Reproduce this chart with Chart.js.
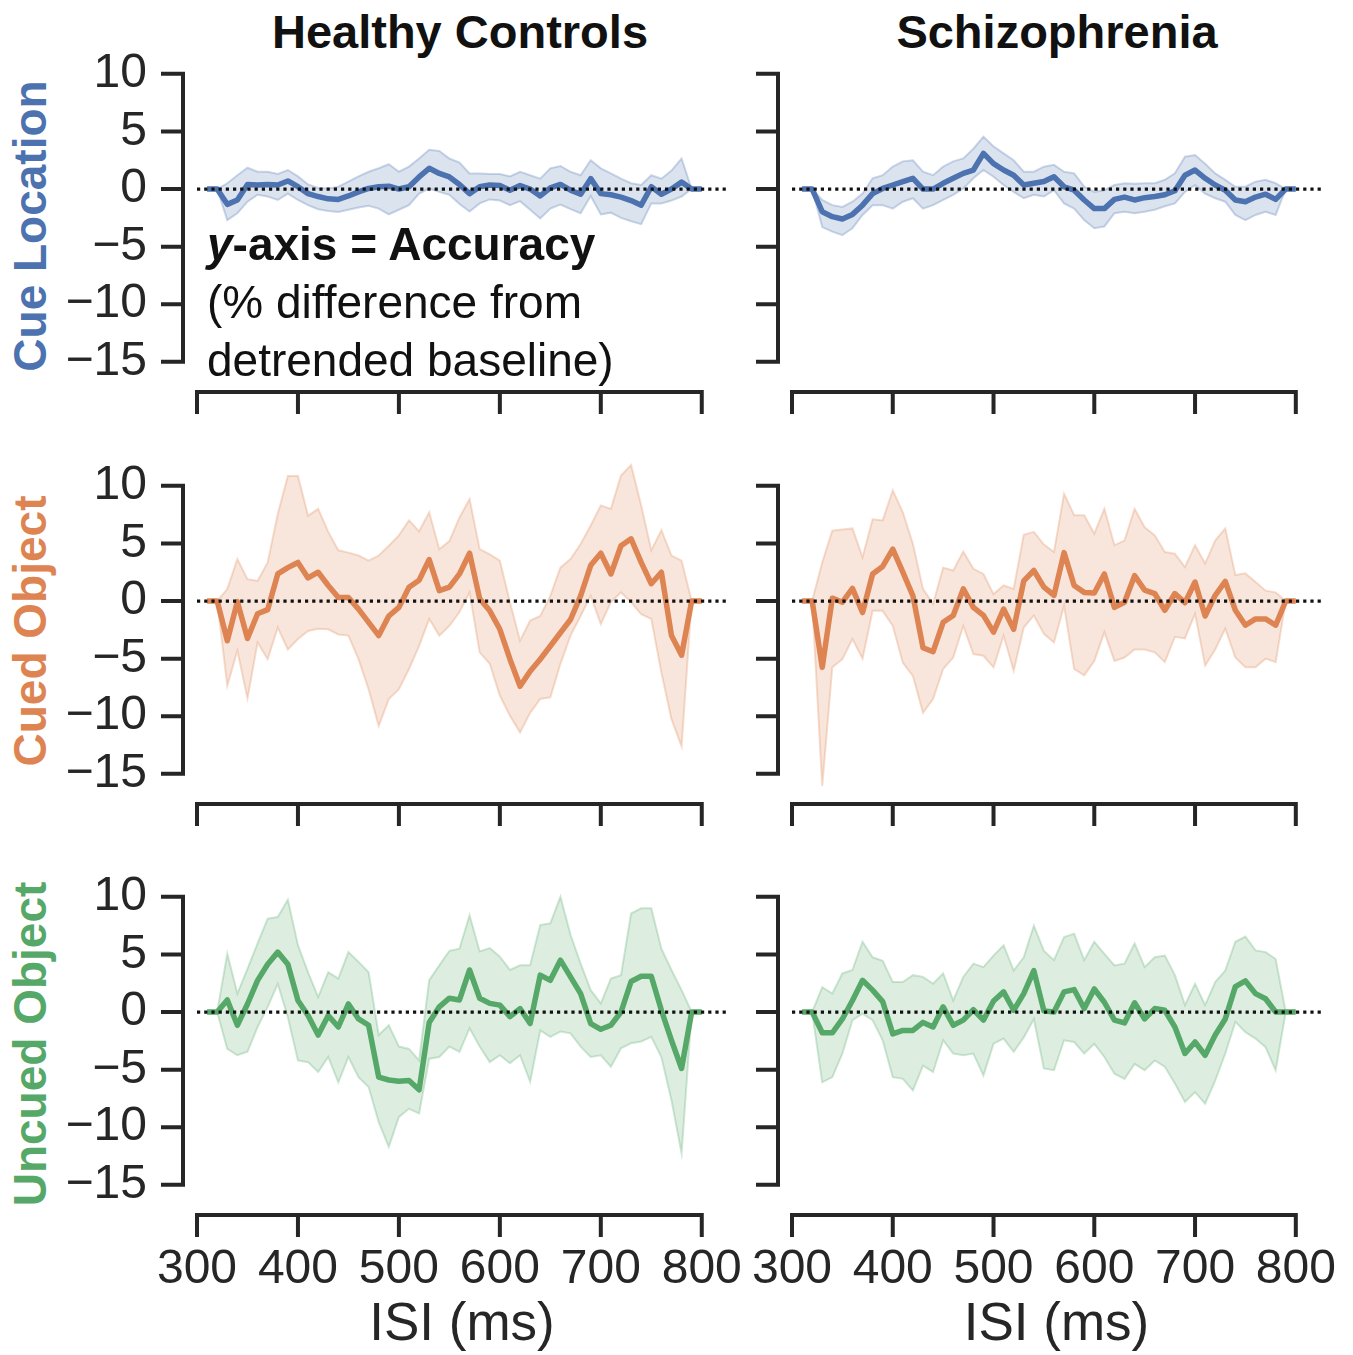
<!DOCTYPE html>
<html lang="en">
<head>
<meta charset="UTF-8">
<title>Accuracy by ISI</title>
<script src="https://cdn.jsdelivr.net/npm/chart.js"></script>
<style>
  body { margin: 0; background: #fff; width: 1353px; height: 1355px; position: relative; overflow: hidden;
         font-family: 'Liberation Sans', Arial, sans-serif; }
  canvas { position: absolute; }
  .coltitle { position: absolute; top: 4px; font-weight: bold; font-size: 47px; color: #111;
              transform: translateX(-50%); white-space: nowrap; }
  .rowlabel { position: absolute; left: 30px; font-weight: bold; font-size: 46px; white-space: nowrap;
              transform: translate(-50%, -50%) rotate(-90deg); }
  .note { position: absolute; left: 207px; top: 215px; font-size: 46px; line-height: 58px; color: #111; white-space: nowrap; }
</style>
</head>
<body>
<div class="coltitle" style="left:460px">Healthy Controls</div>
<div class="coltitle" style="left:1057px">Schizophrenia</div>
<div class="rowlabel" style="top:226px;color:#4c72b0">Cue Location</div>
<div class="rowlabel" style="top:631px;color:#dd8452">Cued Object</div>
<div class="rowlabel" style="top:1044px;color:#55a868">Uncued Object</div>

<script>
// ISI values (ms)
const isi = [310, 320, 330, 340, 350, 360, 370, 380, 390, 400,
             410, 420, 430, 440, 450, 460, 470, 480, 490, 500,
             510, 520, 530, 540, 550, 560, 570, 580, 590, 600,
             610, 620, 630, 640, 650, 660, 670, 680, 690, 700,
             710, 720, 730, 740, 750, 760, 770, 780, 790, 800];
const xTicks = [300, 400, 500, 600, 700, 800];
const yTicks = [-15, -10, -5, 0, 5, 10];
const xRange = [300, 825];
const yRange = [-16.4, 12.5];

// Healthy controls - cue location
const hcCueMean = [0, 0, -1.33, -0.95, 0.4, 0.35, 0.4, 0.35, 0.7, 0.2,
  -0.4, -0.65, -0.85, -0.9, -0.6, -0.25, 0.05, 0.2, 0.25, 0,
  0.2, 1.05, 1.8, 1.35, 1.05, 0.4, -0.4, 0.2, 0.35, 0.3,
  -0.1, 0.3, 0, -0.6, 0.1, 0.4, -0.1, -0.45, 0.9, -0.4,
  -0.5, -0.7, -1.0, -1.4, 0.2, -0.45, 0, 0.6, 0, 0];
const hcCueHi = [0, 0, 0.5, 1.2, 1.85, 1.5, 1.5, 1.3, 1.65, 1.1,
  0.4, 0.1, 0.05, 0.2, 0.65, 1.1, 1.5, 1.8, 2.15, 1.5,
  1.95, 2.65, 3.4, 3.3, 2.65, 2.3, 1.35, 1.35, 1.3, 1.3,
  1.1, 1.5, 1.2, 0.9, 1.8, 2.0, 1.5, 1.2, 2.5, 1.8,
  1.35, 0.9, 0.5, 0.35, 1.2, 0.9, 1.6, 2.65, 0, 0];
const hcCueLo = [0, 0, -2.7, -2.1, -1.1, -0.5, -0.65, -0.95, -0.4, -0.95,
  -1.4, -1.75, -1.9, -2.0, -1.8, -1.6, -1.45, -1.7, -2.2, -1.8,
  -1.4, -0.4, 0.05, -0.25, -0.5, -1.3, -1.95, -1.25, -0.9, -1.0,
  -1.4, -1.05, -1.8, -2.55, -1.7, -1.35, -1.75, -2.1, -0.6, -2.2,
  -2.05, -2.5, -2.8, -3.05, -1.25, -1.25, -1.0, -0.65, 0, 0];

// Schizophrenia - cue location
const szCueMean = [0, 0, -1.97, -2.4, -2.6, -2.2, -1.4, -0.4, 0.05, 0.35,
  0.64, 0.93, 0, 0, 0.5, 0.93, 1.36, 1.65, 3.1, 2.2,
  1.65, 1.2, 0.35, 0.5, 0.65, 1.07, 0.2, -0.1, -0.95, -1.7,
  -1.7, -0.9, -0.7, -0.95, -0.75, -0.65, -0.5, -0.15, 1.2, 1.65,
  0.93, 0.35, -0.1, -0.95, -1.1, -0.7, -0.45, -0.9, 0, 0];
const szCueHi = [0, 0, -0.95, -1.4, -1.55, -1.1, -0.4, 0.93, 1.2, 1.94,
  2.4, 2.5, 1.5, 1.2, 1.94, 2.4, 2.66, 3.5, 4.55, 3.7,
  3.1, 2.5, 1.5, 1.5, 1.94, 2.1, 1.5, 1.36, 0.2, -0.25,
  -0.1, 0.35, 0.5, 0.45, 0.5, 0.5, 0.8, 1.36, 2.8, 2.95,
  2.2, 1.36, 0.8, 0.2, 0.2, 0.64, 0.8, 0.5, 0, 0];
const szCueLo = [0, 0, -3.3, -3.7, -4.0, -3.4, -2.25, -1.4, -1.4, -1.7,
  -1.1, -0.8, -1.7, -1.4, -0.95, -0.5, 0.05, 0.93, 1.65, 1.07,
  0.35, -0.25, -0.8, -0.5, -0.65, -0.1, -1.25, -1.7, -2.7, -3.4,
  -3.25, -2.1, -1.97, -2.1, -1.97, -1.8, -1.5, -1.25, -0.25, 0.35,
  -0.4, -0.8, -1.1, -2.25, -2.7, -2.25, -1.97, -2.25, 0, 0];

// Healthy controls - cued object
const hcCuedMean = [0, 0, -3.45, -0.05, -3.25, -1.1, -0.75, 2.35, 2.9, 3.35,
  2.0, 2.5, 1.35, 0.3, 0.3, -0.7, -1.85, -3.0, -1.3, -0.55,
  1.2, 1.8, 3.6, 0.9, 1.2, 2.35, 4.15, 0.2, -0.85, -2.45,
  -5.05, -7.4, -6.1, -5.05, -3.9, -2.75, -1.6, 0.45, 3.1, 4.15,
  2.35, 4.8, 5.4, 3.35, 1.5, 2.5, -3.0, -4.7, 0, 0];
const hcCuedHi = [0, 0, 1.05, 3.65, 1.9, 1.75, 3.35, 7.55, 10.85, 10.85,
  7.4, 8.0, 6.0, 4.4, 4.2, 3.95, 3.5, 3.95, 4.8, 5.7,
  7.0, 6.05, 7.7, 4.5, 5.2, 7.25, 8.85, 4.5, 4.05, 3.5,
  -0.1, -3.45, -1.7, -1.3, 0.45, 2.9, 3.65, 4.95, 6.55, 8.3,
  8.0, 10.9, 11.8, 8.3, 4.4, 6.15, 3.95, 3.5, 0, 0];
const hcCuedLo = [0, 0, -7.35, -4.3, -8.45, -3.6, -5.05, -2.3, -4.2, -3.3,
  -2.6, -2.4, -2.45, -2.9, -3.0, -5.05, -7.65, -10.85, -8.5, -7.65,
  -5.9, -3.9, -1.55, -3.0, -2.15, -0.95, 0.75, -4.45, -5.45, -8.2,
  -9.95, -11.4, -9.7, -8.5, -8.35, -5.45, -3.0, -1.3, 0.45, -2.0,
  -0.1, 0.75, -0.1, -1.15, -1.55, -6.2, -10.25, -12.6, 0, 0];

// Schizophrenia - cued object
const szCuedMean = [0, 0, -5.75, 0.25, -0.1, 1.1, -1.0, 2.35, 3.0, 4.5,
  2.5, 0.45, -4.05, -4.4, -1.85, -1.25, 1.05, -0.55, -1.25, -2.7,
  -0.7, -2.45, 1.75, 2.65, 1.2, 0.5, 4.2, 1.35, 0.75, 0.7,
  2.35, -0.55, -0.1, 2.2, 0.95, 0.65, -0.8, 0.65, -0.15, 1.65,
  -1.3, 0.5, 1.7, -0.8, -2.1, -1.55, -1.55, -2.1, 0, 0];
const szCuedHi = [0, 0, 3.35, 6.1, 6.2, 6.3, 3.8, 7.1, 7.0, 9.6,
  7.7, 4.95, 1.05, -0.25, 2.9, 2.65, 4.3, 2.8, 2.35, 0.6,
  1.35, 1.05, 5.75, 6.0, 4.9, 4.25, 9.3, 7.45, 7.45, 5.85,
  8.0, 4.85, 5.25, 8.0, 6.4, 5.7, 4.25, 4.1, 2.95, 4.85,
  3.25, 5.25, 6.3, 2.25, 2.4, 1.65, 0.9, 0.75, 0, 0];
const szCuedLo = [0, 0, -16.05, -5.75, -5.05, -3.3, -5.0, -0.85, -0.85, -2.15,
  -5.35, -6.5, -9.7, -8.5, -5.9, -4.9, -2.15, -4.6, -4.75, -5.75,
  -3.0, -6.05, -2.3, -1.25, -2.85, -3.6, -0.4, -5.9, -6.45, -5.2,
  -2.7, -5.2, -4.9, -4.2, -4.2, -4.45, -5.3, -3.1, -3.25, -1.1,
  -5.6, -4.2, -2.4, -4.9, -5.75, -5.75, -5.0, -5.3, 0, 0];

// Healthy controls - uncued object
const hcUncMean = [0, 0, 1.05, -1.15, 0.7, 2.75, 4.15, 5.2, 4.15, 1.0,
  -0.3, -2.0, -0.3, -1.3, 0.7, -0.6, -1.15, -5.65, -5.9, -6.0,
  -5.95, -6.75, -0.9, 0.45, 1.2, 1.05, 3.65, 1.2, 0.75, 0.6,
  -0.4, 0.3, -1.0, 3.2, 2.75, 4.5, 3.05, 1.6, -1.0, -1.5,
  -1.15, 0, 2.65, 3.1, 3.1, 0.15, -2.45, -4.9, 0, 0];
const hcUncHi = [0, 0, 5.05, 1.6, 3.75, 5.95, 8.1, 8.25, 9.75, 5.8,
  3.45, 1.3, 3.45, 2.9, 5.2, 4.35, 3.45, -2.0, -1.15, -3.0,
  -3.2, -4.2, 2.75, 4.05, 5.3, 5.5, 8.4, 5.25, 5.55, 4.8,
  3.65, 4.05, 4.05, 7.55, 7.7, 10.0, 6.7, 4.2, 1.9, 0.75,
  2.9, 3.2, 8.55, 9.0, 9.0, 5.5, 3.65, 1.9, 0, 0];
const hcUncLo = [0, 0, -3.2, -3.75, -3.45, -1.3, 0.45, 2.45, -0.45, -4.2,
  -4.35, -5.2, -3.9, -6.1, -3.9, -5.65, -6.5, -9.55, -11.7, -9.1,
  -8.4, -8.8, -4.05, -3.9, -3.0, -3.45, -1.4, -3.0, -4.35, -3.75,
  -4.45, -3.75, -6.05, -1.6, -2.15, -1.7, -1.85, -3.0, -3.9, -3.75,
  -4.75, -3.15, -2.7, -2.55, -2.15, -3.9, -7.65, -12.25, 0, 0];

// Schizophrenia - uncued object
const szUncMean = [0, 0, -1.8, -1.8, -0.6, 1.0, 2.75, 1.9, 0.9, -1.9,
  -1.6, -1.6, -0.9, -1.3, 0.45, -1.15, -0.7, 0.2, -0.7, 0.95,
  1.75, 0.15, 1.6, 3.6, 0.1, 0, 1.75, 1.95, 0.3, 2.0,
  0.85, -0.7, -0.95, 0.8, -0.6, 0.3, 0.15, -1.3, -3.6, -2.6,
  -3.75, -2.0, -0.6, 2.2, 2.7, 1.6, 1.15, 0, 0, 0];
const szUncHi = [0, 0, 2.15, 1.6, 3.35, 3.65, 6.1, 4.75, 4.45, 2.6,
  2.6, 3.2, 3.05, 2.45, 3.35, 1.0, 3.05, 4.2, 3.9, 4.9,
  5.8, 3.6, 4.75, 7.5, 5.3, 4.5, 6.5, 6.8, 4.5, 6.1,
  5.05, 4.05, 4.2, 5.95, 3.9, 4.75, 4.9, 3.2, 0.6, 2.45,
  0.6, 2.6, 3.6, 6.1, 6.55, 5.35, 5.2, 4.6, 0, 0];
const szUncLo = [0, 0, -6.1, -5.65, -3.6, -0.7, -0.15, -0.7, -2.45, -5.65,
  -5.8, -6.8, -4.65, -5.2, -2.45, -3.6, -3.75, -3.6, -5.5, -2.75,
  -2.3, -3.45, -2.2, -0.6, -4.9, -5.05, -2.45, -2.6, -3.6, -2.75,
  -3.9, -5.35, -5.8, -4.5, -5.05, -4.2, -4.75, -6.2, -7.8, -6.95,
  -7.95, -5.95, -3.6, -0.85, -1.75, -2.3, -3.05, -5.05, 0, 0];

const blue = [76, 114, 176];
const orange = [221, 132, 82];
const green = [85, 168, 104];
const ink = '#262626';
const fontFamily = "'Liberation Sans', Arial, sans-serif";

// draws the offset, trimmed spines with outward ticks
const spinePlugin = {
  id: 'spines',
  afterDraw(chart) {
    const { ctx, chartArea, scales: { x, y } } = chart;
    const off = 14, len = 20;
    const sx = chartArea.left - off;
    const sy = chartArea.bottom + off;
    ctx.save();
    ctx.strokeStyle = ink;
    ctx.lineWidth = 4;
    ctx.lineCap = 'square';
    ctx.beginPath();
    ctx.moveTo(sx, y.getPixelForValue(yTicks[yTicks.length - 1]));
    ctx.lineTo(sx, y.getPixelForValue(yTicks[0]));
    yTicks.forEach(v => {
      const py = y.getPixelForValue(v);
      ctx.moveTo(sx - len, py); ctx.lineTo(sx, py);
    });
    ctx.moveTo(x.getPixelForValue(xTicks[0]), sy);
    ctx.lineTo(x.getPixelForValue(xTicks[xTicks.length - 1]), sy);
    xTicks.forEach(v => {
      const px = x.getPixelForValue(v);
      ctx.moveTo(px, sy); ctx.lineTo(px, sy + len);
    });
    ctx.stroke();
    ctx.restore();
  }
};

const rgba = (c, a) => `rgba(${c[0]},${c[1]},${c[2]},${a})`;
const pts = arr => isi.map((v, i) => ({ x: v, y: arr[i] }));

function makePanel(p) {
  const canvas = document.createElement('canvas');
  canvas.width = p.w;
  canvas.height = p.h;
  canvas.style.left = p.left + 'px';
  canvas.style.top = p.top + 'px';
  document.body.appendChild(canvas);

  new Chart(canvas.getContext('2d'), {
    type: 'line',
    data: {
      datasets: [
        { data: pts(p.lo), borderColor: rgba(p.color, 0.28), borderWidth: 2, fill: false, order: 3 },
        { data: pts(p.hi), borderColor: rgba(p.color, 0.28), borderWidth: 2,
          fill: '-1', backgroundColor: rgba(p.color, 0.2), order: 2 },
        { data: pts(p.mean), borderColor: rgba(p.color, 1), borderWidth: 5.5, fill: false, order: 1,
          borderJoinStyle: 'round' },
        { data: xRange.map(v => ({ x: v, y: 0 })), borderColor: '#111', borderWidth: 3.2,
          borderDash: [3.2, 4], fill: false, order: 0 }
      ]
    },
    options: {
      responsive: false,
      animation: false,
      devicePixelRatio: 1,
      layout: { padding: { top: 0, left: 0, right: p.padRight, bottom: 0 } },
      elements: { point: { radius: 0 }, line: { tension: 0 } },
      plugins: { legend: { display: false }, tooltip: { enabled: false } },
      scales: {
        x: {
          type: 'linear', min: xRange[0], max: xRange[1],
          grid: { display: false, drawTicks: false }, border: { display: false },
          afterBuildTicks: s => { s.ticks = xTicks.map(v => ({ value: v })); },
          afterFit: s => { s.height = p.xH; s.paddingLeft = 0; s.paddingRight = 0; },
          ticks: { display: p.xLabels, autoSkip: false, maxRotation: 0, padding: 40, color: ink,
                   font: { family: fontFamily, size: 48 } },
          title: { display: p.xLabels, text: 'ISI (ms)', color: ink, padding: { top: 0, bottom: 1 },
                   font: { family: fontFamily, size: 53, lineHeight: 1 } }
        },
        y: {
          min: yRange[0], max: yRange[1],
          grid: { display: false, drawTicks: false }, border: { display: false },
          afterBuildTicks: s => { s.ticks = yTicks.map(v => ({ value: v })); },
          afterFit: s => { s.width = p.yW; s.paddingTop = 0; s.paddingBottom = 0; },
          ticks: { display: p.yLabels, padding: 50, color: ink,
                   font: { family: fontFamily, size: 48 },
                   callback: v => v < 0 ? '\u2212' + Math.abs(v) : String(v) }
        }
      }
    },
    plugins: [spinePlugin]
  });
}

const rowTops = [45, 457, 868];
const areaH = 333;
const cols = [
  { left: 0, w: 740, yW: 197, padRight: 13, yLabels: true },
  { left: 740, w: 613, yW: 52, padRight: 32, yLabels: false }
];
const series = [
  [[hcCueMean, hcCueLo, hcCueHi, blue], [szCueMean, szCueLo, szCueHi, blue]],
  [[hcCuedMean, hcCuedLo, hcCuedHi, orange], [szCuedMean, szCuedLo, szCuedHi, orange]],
  [[hcUncMean, hcUncLo, hcUncHi, green], [szUncMean, szUncLo, szUncHi, green]]
];

series.forEach((row, r) => {
  row.forEach((s, c) => {
    const last = r === 2;
    const xH = last ? 152 : 45;
    makePanel({
      left: cols[c].left, w: cols[c].w, yW: cols[c].yW, padRight: cols[c].padRight,
      yLabels: cols[c].yLabels, xLabels: last,
      top: rowTops[r], h: areaH + xH, xH: xH,
      mean: s[0], lo: s[1], hi: s[2], color: s[3]
    });
  });
});

// annotation text sits above the top-left panel
const note = document.createElement('div');
note.className = 'note';
note.innerHTML = '<b><i>y</i>-axis = Accuracy</b><br>(% difference from<br>detrended baseline)';
document.body.appendChild(note);
</script>
</body>
</html>
